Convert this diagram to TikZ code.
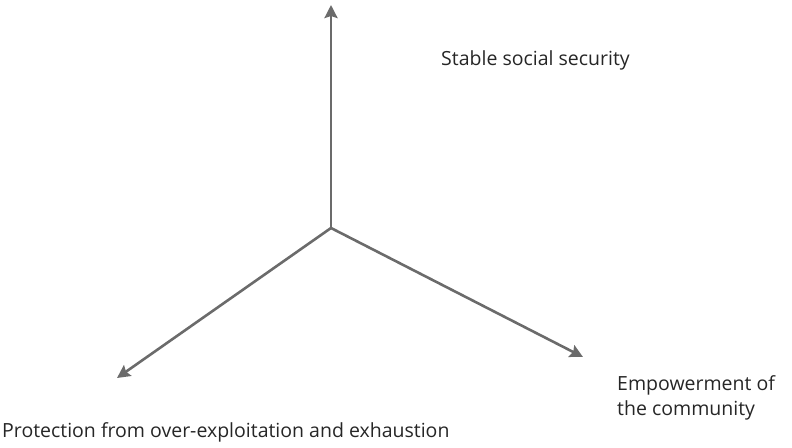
\documentclass[tikz,border=0pt]{standalone}
\usepackage{fontspec}
\setmainfont{Open Sans}
\usetikzlibrary{arrows.meta}
\begin{document}
\begin{tikzpicture}[x=1pt,y=-1pt,
  axis/.style={draw=black!58, line width=2.6pt, -{Stealth[inset=2pt,length=13pt,width=13pt]}},
  lbl/.style={anchor=base west, inner sep=0pt, font=\fontsize{19.5}{26}\selectfont, text=black!85}]
\useasboundingbox (0,0) rectangle (792,447);
\coordinate (o) at (331,228);
\coordinate (up) at (331,5);
\coordinate (rt) at (583,357);
\coordinate (lt) at (117,378);
\draw[axis] (o) -- (up);
\draw[axis] (o) -- (rt);
\draw[axis] (o) -- (lt);
\node[lbl] (t1) at (441,65) {Stable social security};
\node[lbl] (t2) at (617,390) {Empowerment of};
\node[lbl] (t3) at (617,415) {the community};
\node[lbl] (t4) at (2,437) {Protection from over-exploitation and exhaustion};
\end{tikzpicture}
\end{document}
